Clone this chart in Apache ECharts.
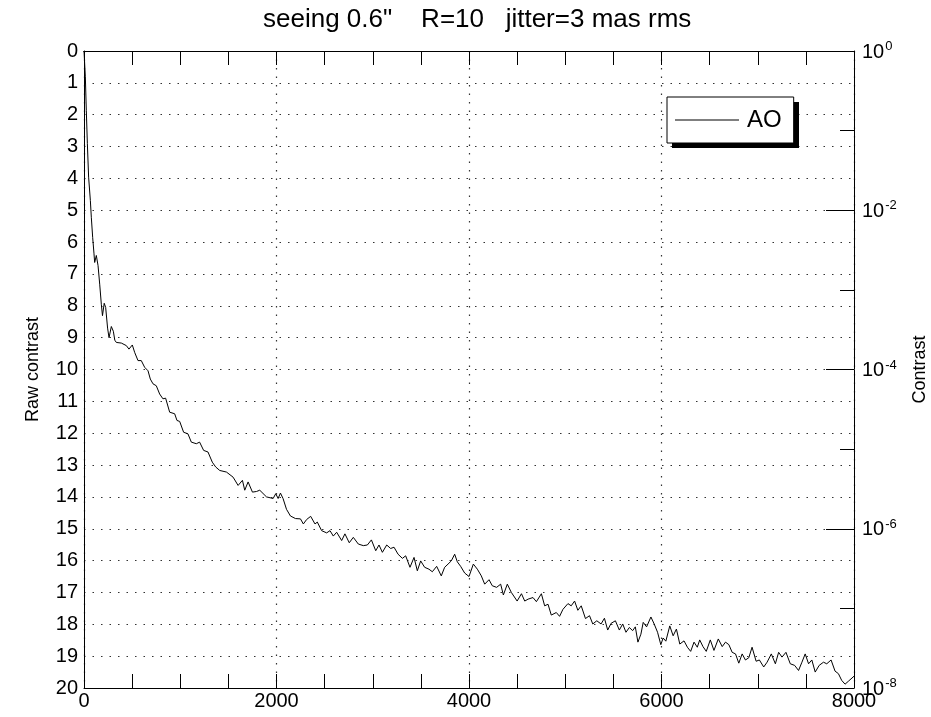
<!DOCTYPE html>
<html>
<head>
<meta charset="utf-8">
<script src="https://cdn.jsdelivr.net/npm/echarts@6/dist/echarts.min.js"></script>
<style>
html,body{margin:0;padding:0;background:#fff;}
#chart{width:931px;height:717px;}
</style>
</head>
<body>
<div id="chart"></div>
<script>
// ---- data ----
const titleText = 'seeing 0.6"    R=10   jitter=3 mas rms';
const seriesName = 'AO';
const leftAxisName = 'Raw contrast';
const rightAxisName = 'Contrast';
const xTicks = [0, 2000, 4000, 6000, 8000];
const rightExponents = [0, -2, -4, -6, -8];

const separation = [
  0, 14, 24, 35, 48, 66, 76, 90, 104, 111, 128, 146, 163, 180, 192, 210, 225, 245, 260, 284,
  305, 320, 336, 388, 440, 467, 502, 526, 561, 595, 630, 665, 689, 717, 751, 786, 820, 848, 890, 942,
  966, 994, 1035, 1080, 1115, 1167, 1201, 1243, 1288, 1333, 1368, 1410, 1480, 1549, 1601, 1646, 1670, 1705, 1750, 1792,
  1826, 1896, 1965, 1992, 2017, 2041, 2068, 2104, 2145, 2197, 2249, 2279, 2313, 2355, 2400, 2424, 2469, 2521, 2556, 2590,
  2625, 2677, 2711, 2756, 2798, 2850, 2902, 2944, 2986, 3031, 3065, 3100, 3145, 3186, 3221, 3263, 3308, 3342, 3387, 3429,
  3463, 3498, 3539, 3584, 3619, 3664, 3712, 3747, 3782, 3816, 3851, 3879, 3913, 3955, 4000, 4045, 4087, 4128, 4163, 4208,
  4242, 4287, 4329, 4357, 4398, 4440, 4459, 4500, 4545, 4579, 4614, 4665, 4700, 4752, 4786, 4821, 4855, 4907, 4941, 4976,
  5028, 5062, 5097, 5131, 5166, 5210, 5252, 5286, 5328, 5372, 5407, 5441, 5476, 5521, 5562, 5597, 5631, 5666, 5700, 5728,
  5755, 5786, 5810, 5845, 5890, 5924, 5959, 5993, 6017, 6045, 6086, 6121, 6155, 6190, 6234, 6269, 6303, 6338, 6372, 6397,
  6431, 6465, 6507, 6545, 6590, 6631, 6665, 6700, 6734, 6769, 6803, 6838, 6872, 6907, 6941, 6983, 7017, 7062, 7097, 7141,
  7183, 7217, 7252, 7293, 7338, 7383, 7424, 7459, 7493, 7528, 7562, 7597, 7638, 7683, 7717, 7762, 7803, 7838, 7872, 7907,
  7941, 8000
];
const rawContrast = [
  0.0, 0.81, 1.86, 2.91, 3.96, 4.69, 5.22, 5.85, 6.37, 6.64, 6.42, 6.74, 7.32, 7.95, 8.31, 7.92, 8.05, 8.70, 9.0, 8.65,
  8.80, 9.08, 9.15, 9.17, 9.25, 9.36, 9.23, 9.46, 9.72, 9.72, 9.93, 10.04, 10.30, 10.45, 10.51, 10.77, 10.92, 10.90, 11.34, 11.39,
  11.60, 11.63, 11.97, 12.02, 12.28, 12.33, 12.28, 12.54, 12.59, 12.91, 13.06, 13.17, 13.22, 13.38, 13.64, 13.48, 13.79, 13.53, 13.85, 13.83,
  13.79, 14.00, 14.05, 13.90, 14.05, 13.88, 14.05, 14.39, 14.60, 14.68, 14.69, 14.85, 14.71, 14.61, 14.85, 14.79, 15.06, 15.13, 15.06, 15.23,
  15.11, 15.37, 15.16, 15.44, 15.27, 15.48, 15.53, 15.51, 15.35, 15.69, 15.51, 15.74, 15.51, 15.62, 15.58, 15.80, 15.93, 15.85, 16.21, 15.90,
  16.32, 16.01, 16.21, 16.27, 16.35, 16.18, 16.48, 16.21, 16.11, 16.01, 15.80, 16.04, 16.18, 16.39, 16.50, 16.11, 16.27, 16.48, 16.74, 16.60,
  16.79, 16.84, 16.74, 17.08, 16.74, 17.00, 16.98, 17.27, 17.04, 17.27, 17.21, 17.16, 17.29, 17.04, 17.42, 17.37, 17.71, 17.63, 17.75, 17.53,
  17.35, 17.42, 17.27, 17.56, 17.42, 17.82, 17.73, 17.99, 17.89, 17.99, 17.81, 18.18, 17.97, 17.89, 18.18, 17.99, 18.25, 18.10, 18.20, 18.08,
  18.56, 18.31, 17.94, 18.08, 17.77, 17.99, 18.25, 18.64, 18.43, 18.53, 18.05, 18.36, 18.15, 18.62, 18.52, 18.72, 18.85, 18.56, 18.72, 18.49,
  18.70, 18.85, 18.49, 18.82, 18.46, 18.70, 18.56, 18.64, 18.88, 18.93, 19.22, 18.93, 19.12, 19.05, 18.72, 19.16, 19.12, 19.34, 19.19, 18.93,
  19.24, 18.88, 19.03, 18.88, 19.24, 19.29, 19.45, 19.19, 18.93, 19.24, 19.12, 19.50, 19.29, 19.19, 19.24, 19.12, 19.47, 19.55, 19.76, 19.88,
  19.79, 19.63
];

// ---- chart ----
const FONT = '"Liberation Sans", Arial, sans-serif';
const dotted = { color: '#333', width: 1.2, type: [1.5, 7] };
const GRID = { left: 84, right: 77, top: 51, bottom: 29, containLabel: false, outerBoundsMode: 'none' };
// thin strip along the top edge whose vertical split lines act as the top ticks
const TOP_STRIP = { left: 84, right: 77, top: 51, height: 14, containLabel: false, outerBoundsMode: 'none' };
const chart = echarts.init(document.getElementById('chart'), null, { renderer: 'canvas' });

const seriesData = separation.map((x, i) => [x, rawContrast[i]]);
const tickLine = { color: '#000', width: 1 };

chart.setOption({
  backgroundColor: '#ffffff',
  animation: false,
  textStyle: { fontFamily: FONT, color: '#000' },
  title: {
    text: titleText,
    left: 258,
    top: 2,
    textStyle: { fontFamily: FONT, fontSize: 26, fontWeight: 'normal', color: '#000' }
  },
  legend: {
    data: [seriesName],
    left: 667,
    top: 97,
    z: 10,
    icon: 'rect',
    itemWidth: 64,
    itemHeight: 1.2,
    padding: [9, 12, 9, 8],
    backgroundColor: '#fff',
    borderColor: '#000',
    borderWidth: 1,
    borderRadius: 0,
    itemStyle: { color: '#000', borderWidth: 0 },
    textStyle: { fontFamily: FONT, fontSize: 24, color: '#000', lineHeight: 28, padding: [0, 0, 0, 3] }
  },
  graphic: [
    {
      type: 'rect', z: 1, silent: true,
      shape: { x: 672, y: 102, width: 127, height: 46 },
      style: { fill: '#000' }
    }
  ],
  grid: [Object.assign({}, GRID), Object.assign({}, GRID), Object.assign({}, GRID), Object.assign({}, TOP_STRIP)],
  xAxis: [
    {
      gridIndex: 0, type: 'value', position: 'bottom', min: 0, max: 8000, interval: 2000,
      axisLine: { show: true, onZero: false, lineStyle: tickLine },
      axisTick: { show: false },
      axisLabel: { show: true, fontFamily: FONT, fontSize: 20, color: '#000', margin: 3,
        formatter: v => (xTicks.indexOf(v) >= 0 ? String(v) : '') },
      splitLine: { show: true, lineStyle: dotted }
    },
    {
      gridIndex: 1, type: 'value', position: 'bottom', min: 0, max: 8000, interval: 500,
      axisLine: { show: true, onZero: true, lineStyle: tickLine },
      axisTick: { show: true, inside: false, length: 14, lineStyle: tickLine },
      axisLabel: { show: false },
      splitLine: { show: false }
    },
    {
      gridIndex: 2, type: 'value', position: 'bottom', min: 0, max: 8000, interval: 500,
      axisLine: { show: false, onZero: false },
      axisTick: { show: true, inside: true, length: 14, lineStyle: tickLine },
      axisLabel: { show: false },
      splitLine: { show: false }
    },
    {
      gridIndex: 3, type: 'value', position: 'top', min: 0, max: 8000, interval: 500,
      axisLine: { show: true, onZero: false, lineStyle: tickLine },
      axisTick: { show: false },
      axisLabel: { show: false },
      splitLine: { show: true, lineStyle: { color: '#000', width: 1, type: 'solid' } }
    }
  ],
  yAxis: [
    {
      gridIndex: 0, type: 'value', position: 'left', inverse: true, min: 0, max: 20, interval: 1,
      name: leftAxisName, nameLocation: 'middle', nameRotate: 90, nameGap: 42,
      nameTextStyle: { fontFamily: FONT, fontSize: 18, color: '#000' },
      axisLine: { show: true, onZero: false, lineStyle: tickLine },
      axisTick: { show: false },
      axisLabel: { fontFamily: FONT, fontSize: 20, color: '#000', margin: 6 },
      splitLine: { show: true, lineStyle: dotted }
    },
    {
      gridIndex: 0, type: 'value', position: 'right', min: -8, max: 0, interval: 1,
      name: rightAxisName, nameLocation: 'middle', nameRotate: 90, nameGap: 57,
      nameTextStyle: { fontFamily: FONT, fontSize: 18, color: '#000' },
      axisLine: { show: true, onZero: false, lineStyle: tickLine },
      axisTick: { show: true, inside: true, length: 14, lineStyle: tickLine },
      axisLabel: {
        margin: 8,
        formatter: v => (rightExponents.indexOf(v) >= 0 ? '{b|10}{s|' + v + '}' : ''),
        rich: {
          b: { fontFamily: FONT, fontSize: 20, color: '#000', lineHeight: 22, verticalAlign: 'bottom' },
          s: { fontFamily: FONT, fontSize: 13, color: '#000', lineHeight: 22, verticalAlign: 'top', padding: [0, 0, 12, 1] }
        }
      },
      splitLine: { show: false }
    },
    {
      gridIndex: 1, type: 'value', position: 'right', min: -8, max: 0, interval: 2,
      axisLine: { show: false, onZero: false },
      axisTick: { show: true, inside: true, length: 28, lineStyle: tickLine },
      axisLabel: { show: false },
      splitLine: { show: false }
    },
    {
      gridIndex: 2, type: 'value', show: false, min: 0, max: 1
    },
    {
      gridIndex: 3, type: 'value', show: false, min: 0, max: 1
    }
  ],
  series: [
    {
      name: seriesName,
      type: 'line',
      xAxisIndex: 0,
      yAxisIndex: 0,
      data: seriesData,
      symbol: 'none',
      showSymbol: false,
      smooth: false,
      lineStyle: { color: '#000', width: 1 },
      itemStyle: { color: '#000' }
    }
  ]
});
</script>
</body>
</html>
